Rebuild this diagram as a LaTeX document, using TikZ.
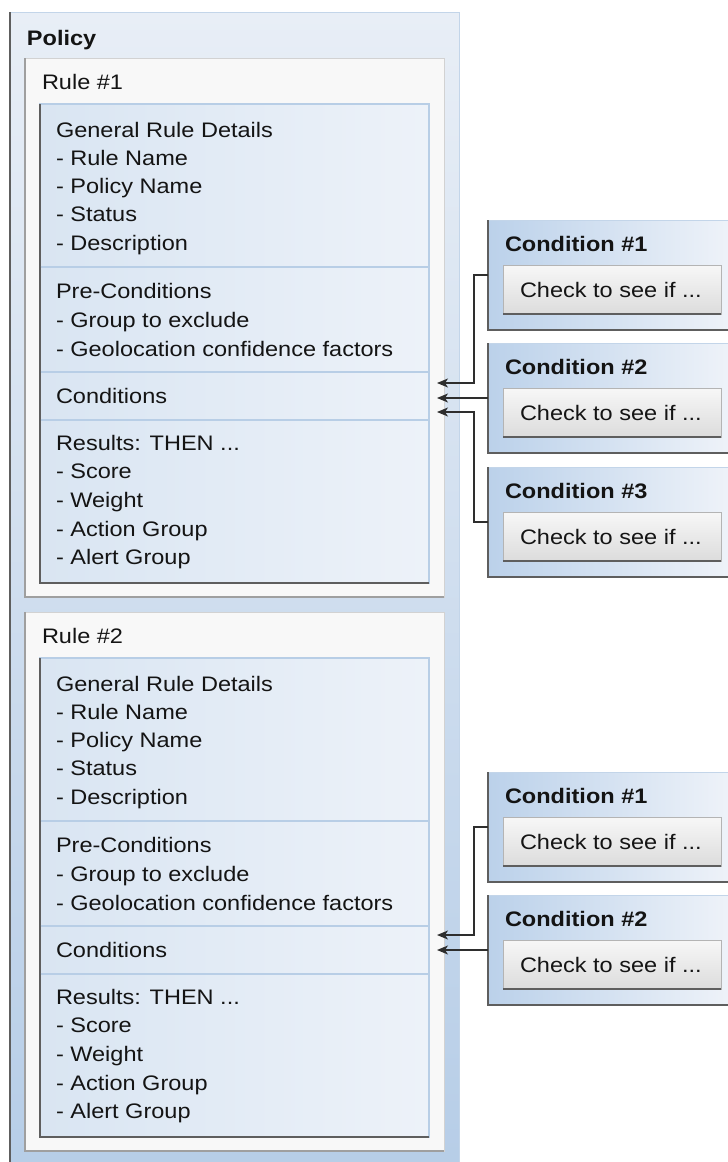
\documentclass[tikz,border=0pt]{standalone}
\usepackage{fontspec}
\setmainfont{Liberation Sans}[FakeStretch=1.12]
\usetikzlibrary{arrows.meta}
\definecolor{textc}{HTML}{141414}
\definecolor{poltop}{HTML}{E8EEF6}
\definecolor{polbot}{HTML}{B6CDE7}
\definecolor{polborder}{HTML}{C3D5E9}
\definecolor{darkedge}{HTML}{5E5E5E}
\definecolor{rulefill}{HTML}{F8F8F8}
\definecolor{ruleborder}{HTML}{D2D2D2}
\definecolor{innerl}{HTML}{D9E5F2}
\definecolor{innerr}{HTML}{EDF2F9}
\definecolor{innerborder}{HTML}{B8CEE6}
\definecolor{condl}{HTML}{BBD1EA}
\definecolor{condr}{HTML}{F2F5FA}
\definecolor{chktop}{HTML}{F7F7F7}
\definecolor{chkbot}{HTML}{DCDCDC}
\definecolor{chkborder}{HTML}{B4B4B4}
\definecolor{connc}{HTML}{2E2E2E}

\tikzset{
  txt/.style={font=\fontsize{21}{25}\selectfont, text=textc, inner sep=0pt, outer sep=0pt},
  btxt/.style={font=\fontsize{21}{25}\selectfont\bfseries, text=textc, inner sep=0pt, outer sep=0pt},
  boxbase/.style={inner sep=0pt, outer sep=0pt, anchor=north west},
  policybg/.style={boxbase, draw=polborder, line width=1pt, top color=poltop, bottom color=polbot,
      minimum width=449pt, minimum height=1170pt},
  rulebg/.style={boxbase, draw=ruleborder, line width=1pt, fill=rulefill,
      minimum width=419pt, minimum height=539pt},
  innerbg/.style={boxbase, draw=innerborder, line width=1.2pt, left color=innerl, right color=innerr,
      minimum width=389pt, minimum height=479pt},
  condbg/.style={boxbase, draw=polborder, line width=1pt, left color=condl, right color=condr,
      minimum width=260pt, minimum height=110pt},
  chkbg/.style={boxbase, draw=chkborder, line width=1pt, top color=chktop, bottom color=chkbot,
      minimum width=218pt, minimum height=49pt},
  darkline/.style={draw=darkedge, line width=1.4pt},
  greyline/.style={draw=gray!75, line width=1.3pt},
  divider/.style={draw=innerborder, line width=1.4pt},
  conn/.style={draw=connc, line width=1.4pt, -{Stealth[length=11pt,width=9pt,inset=3pt]}},
}

\newcommand\ruleblock[3]{%
  \node[rulebg] (#1) at (25,58+#2) {};
  \draw[greyline] (#1.north west) -- (#1.south west) -- (#1.south east);
  \node[txt, anchor=base west] (#1lbl) at (42,89+#2) {Rule \##3};
  \node[innerbg] (#1in) at (40,104+#2) {};
  \draw[darkline] (#1in.north west) -- (#1in.south west) -- (#1in.south east);
  \draw[divider] (40.7,267+#2) -- (428.4,267+#2);
  \draw[divider] (40.7,372+#2) -- (428.4,372+#2);
  \draw[divider] (40.7,420+#2) -- (428.4,420+#2);
  \foreach \t [count=\i] in {General Rule Details,- Rule Name,- Policy Name,- Status,- Description}
    \node[txt, anchor=base west] (#1g\i) at (56,137+28.3*\i-28.3+#2) {\t};
  \foreach \t [count=\i] in {Pre-Conditions,- Group to exclude,- Geolocation confidence factors}
    \node[txt, anchor=base west] (#1p\i) at (56,298+29*\i-29+#2) {\t};
  \node[txt, anchor=base west] (#1c) at (56,403+#2) {Conditions};
  \node[txt, anchor=base west] (#1r1) at (56,450+#2) {Results: THEN ...};
  \foreach \t [count=\i from 2] in {- Score,- Weight,- Action Group,- Alert Group}
    \node[txt, anchor=base west] (#1r\i) at (56,450+28.7*\i-28.7+#2) {\t};
}

\newcommand\condblock[3]{%
  \node[condbg] (#1) at (488,#2) {};
  \draw[darkline] (#1.north west) -- (#1.south west) -- (#1.south east);
  \node[btxt, anchor=base west] (#1t) at (505,#2+31) {Condition \##3};
  \node[chkbg] (#1k) at (503,#2+45) {};
  \draw[darkline] (#1k.south west) -- (#1k.south east);
  \node[txt, anchor=base west] (#1kt) at (520,#2+77) {Check to see if ...};
}

\begin{document}
\begin{tikzpicture}[x=1pt,y=-1pt]
\useasboundingbox (0,0) rectangle (728,1162);
\clip (0,0) rectangle (728,1162);
\fill[white] (0,0) rectangle (728,1162);

% policy
\node[policybg] (policy) at (10,12) {};
\draw[darkline] (policy.north west) -- (policy.south west);
\node[btxt, anchor=base west] (policylbl) at (27,45) {Policy};

\ruleblock{ra}{0}{1}
\ruleblock{rb}{554}{2}

\condblock{ca}{220}{1}
\condblock{cb}{343}{2}
\condblock{cc}{467}{3}
\condblock{da}{772}{1}
\condblock{db}{895}{2}

\coordinate (ta1) at (437,383);
\coordinate (ta2) at (437,398);
\coordinate (ta3) at (437,412);
\coordinate (tb1) at (437,935);
\coordinate (tb2) at (437,950);

\draw[conn] (ca.west) -- ++(-14,0) |- (ta1);
\draw[conn] (cb.west) -- (cb.west -| ta2);
\draw[conn] (cc.west) -- ++(-14,0) |- (ta3);
\draw[conn] (da.west) -- ++(-14,0) |- (tb1);
\draw[conn] (db.west) -- (db.west -| tb2);
\end{tikzpicture}
\end{document}
